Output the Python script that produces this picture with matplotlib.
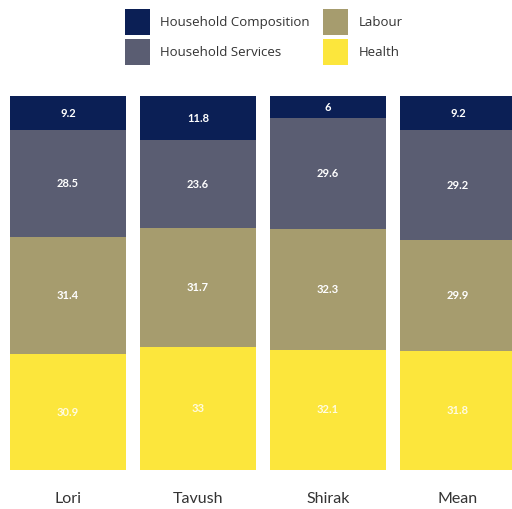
import numpy as np
import matplotlib
matplotlib.use("Agg")
import matplotlib.pyplot as plt

plt.rcParams["font.family"] = ["Lato", "DejaVu Sans"]

# Share of each dimension by region (%)
regions = ["Lori", "Tavush", "Shirak", "Mean"]
composition = [9.2, 11.8, 6, 9.2]
services = [28.5, 23.6, 29.6, 29.2]
labour = [31.4, 31.7, 32.3, 29.9]
health = [30.9, 33, 32.1, 31.8]

series = [
    ("Household Composition", composition, "#0b1f55"),
    ("Household Services", services, "#5a5d72"),
    ("Labour", labour, "#a69c6e"),
    ("Health", health, "#fce63c"),
]

fig = plt.figure(figsize=(5.12, 5.09), dpi=100)
ax = fig.add_axes([0, 39 / 509, 1, 374 / 509])

x = np.arange(len(regions))
top = np.full(len(regions), 100.0)
handles = []
for name, vals, color in series:
    vals = np.array(vals, dtype=float)
    bottom = top - vals
    bars = ax.bar(x, vals, bottom=bottom, width=0.89, color=color, label=name)
    handles.append(bars)
    txt_color = "#fffbe0" if name == "Health" else "white"
    for xi, b, v in zip(x, bottom, vals):
        ax.text(xi, b + v / 2, f"{v:g}", ha="center", va="center",
                color=txt_color, fontsize=8, fontweight="bold")
    top = bottom

ax.set_xlim(-0.523, 3.415)
ax.set_ylim(0, 100)
ax.set_xticks(x)
ax.set_xticklabels(regions, fontsize=11.5, color="#333333")
ax.tick_params(axis="x", length=0, pad=16)
ax.set_yticks([])
for s in ax.spines.values():
    s.set_visible(False)

fig.legend(handles=handles, loc="upper center", bbox_to_anchor=(0.515, 1.0),
           ncol=2, frameon=False, prop={"family": "Open Sans", "size": 9.5},
           handlelength=1.9, handleheight=2.6, columnspacing=1.0,
           labelspacing=0.35, handletextpad=0.8, labelcolor="#333333",
           borderaxespad=0.3)

fig.savefig("out.png", dpi=100)
